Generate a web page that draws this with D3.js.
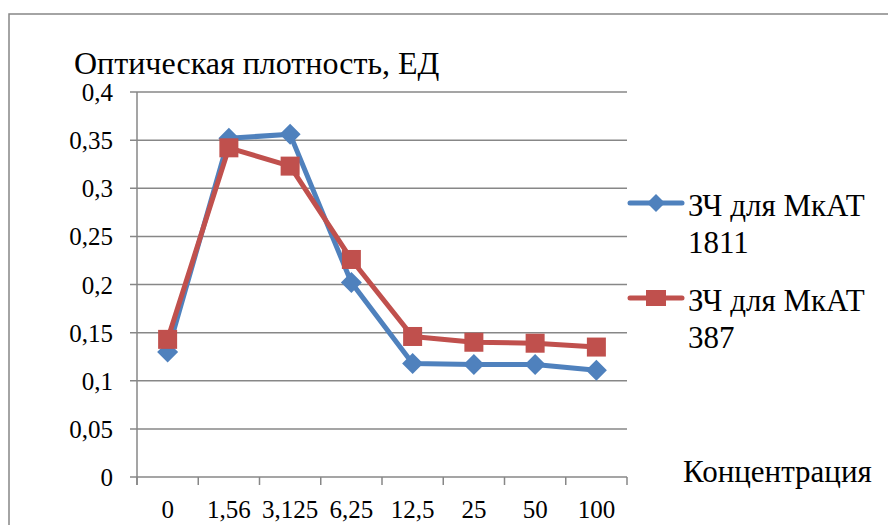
<!DOCTYPE html>
<html>
<head>
<meta charset="utf-8">
<script src="https://cdn.jsdelivr.net/npm/d3@7"></script>
<style>
  html, body { margin: 0; padding: 0; background: #fff; }
  svg { display: block; }
</style>
</head>
<body>
<svg id="chart" width="888" height="525"></svg>
<script>
// Concentration steps (x categories)
const categories = ["0", "1,56", "3,125", "6,25", "12,5", "25", "50", "100"];
// Optical density, series for MkAT 1811 and MkAT 387
const values1811 = [0.130, 0.352, 0.356, 0.202, 0.118, 0.117, 0.117, 0.111];
const values387 = [0.143, 0.342, 0.323, 0.226, 0.146, 0.140, 0.139, 0.135];
const yTicks = [0, 0.05, 0.1, 0.15, 0.2, 0.25, 0.3, 0.35, 0.4];
const seriesNames = ["ЗЧ для МкАТ 1811", "ЗЧ для МкАТ 387"];

const FONT = "'Liberation Serif', 'Times New Roman', 'DejaVu Serif', serif";
const svg = d3.select("#chart");
const grid = "#878787";
const blue = "#4F81BD";
const red = "#C0504D";

// Outer frame (top and left edges visible)
svg.append("path")
  .attr("d", "M9,525 L9,14 L888,14")
  .attr("fill", "none").attr("stroke", grid).attr("stroke-width", 1.5);

const x = d3.scaleBand().domain(categories).range([137, 627]);
const y = d3.scaleLinear().domain([0, 0.4]).range([477, 92]);
const fmt = d => String(+d.toFixed(2)).replace(".", ",");

// Horizontal gridlines
svg.append("g").selectAll("line").data(yTicks).join("line")
  .attr("x1", 130).attr("x2", 627)
  .attr("y1", d => y(d)).attr("y2", d => y(d))
  .attr("stroke", grid).attr("stroke-width", 1.5);

// Y axis line
svg.append("line")
  .attr("x1", 137).attr("x2", 137).attr("y1", y(0.4)).attr("y2", y(0) + 8)
  .attr("stroke", grid).attr("stroke-width", 1.5);

// Y tick labels
svg.append("g").selectAll("text").data(yTicks).join("text")
  .attr("x", 113).attr("y", d => y(d)).attr("dy", "0.36em")
  .attr("text-anchor", "end")
  .attr("font-family", FONT).attr("font-size", 25)
  .text(fmt);

// X category boundary ticks
const bounds = categories.map(c => x(c)).concat([x(categories[categories.length - 1]) + x.bandwidth()]);
svg.append("g").selectAll("line").data(bounds).join("line")
  .attr("x1", d => d).attr("x2", d => d)
  .attr("y1", y(0)).attr("y2", y(0) + 8)
  .attr("stroke", grid).attr("stroke-width", 1.5);

// X tick labels
svg.append("g").selectAll("text").data(categories).join("text")
  .attr("x", d => x(d) + x.bandwidth() / 2).attr("y", 518)
  .attr("text-anchor", "middle")
  .attr("font-family", FONT).attr("font-size", 25)
  .text(d => d);

// Axis titles
svg.append("text").attr("x", 74).attr("y", 74)
  .attr("font-family", FONT).attr("font-size", 32)
  .text("Оптическая плотность, ЕД");
svg.append("text").attr("x", 683).attr("y", 482)
  .attr("font-family", FONT).attr("font-size", 31)
  .text("Концентрация");

const cx = d => x(d) + x.bandwidth() / 2;
const diamond = r => `M0,${-r} L${r},0 L0,${r} L${-r},0 Z`;

function drawSeries(vals, color, shape) {
  const pts = categories.map((c, i) => [cx(c), y(vals[i])]);
  svg.append("path")
    .attr("d", d3.line()(pts))
    .attr("fill", "none").attr("stroke", color).attr("stroke-width", 5)
    .attr("stroke-linejoin", "round").attr("stroke-linecap", "round");
  const g = svg.append("g");
  if (shape === "diamond") {
    g.selectAll("path").data(pts).join("path")
      .attr("d", diamond(10.5))
      .attr("transform", d => `translate(${d[0]},${d[1]})`)
      .attr("fill", color);
  } else {
    g.selectAll("rect").data(pts).join("rect")
      .attr("x", d => d[0] - 9.5).attr("y", d => d[1] - 9.5)
      .attr("width", 19).attr("height", 19)
      .attr("fill", color);
  }
}

drawSeries(values1811, blue, "diamond");
drawSeries(values387, red, "square");

// Legend
const legend = [
  { name: seriesNames[0], color: blue, shape: "diamond", y: 203 },
  { name: seriesNames[1], color: red, shape: "square", y: 298 }
];
legend.forEach(l => {
  svg.append("line").attr("x1", 630).attr("x2", 682).attr("y1", l.y).attr("y2", l.y)
    .attr("stroke", l.color).attr("stroke-width", 5).attr("stroke-linecap", "round");
  if (l.shape === "diamond") {
    svg.append("path").attr("d", diamond(9))
      .attr("transform", `translate(656,${l.y})`).attr("fill", l.color);
  } else {
    svg.append("rect").attr("x", 646).attr("y", l.y - 8).attr("width", 20).attr("height", 16)
      .attr("fill", l.color);
  }
  const words = l.name.split(" ");
  const t = svg.append("text").attr("x", 688).attr("y", l.y + 13)
    .attr("font-family", FONT).attr("font-size", 31);
  t.append("tspan").attr("x", 688).text(words.slice(0, 3).join(" "));
  t.append("tspan").attr("x", 688).attr("dy", 37).text(words[3]);
});
</script>
</body>
</html>
